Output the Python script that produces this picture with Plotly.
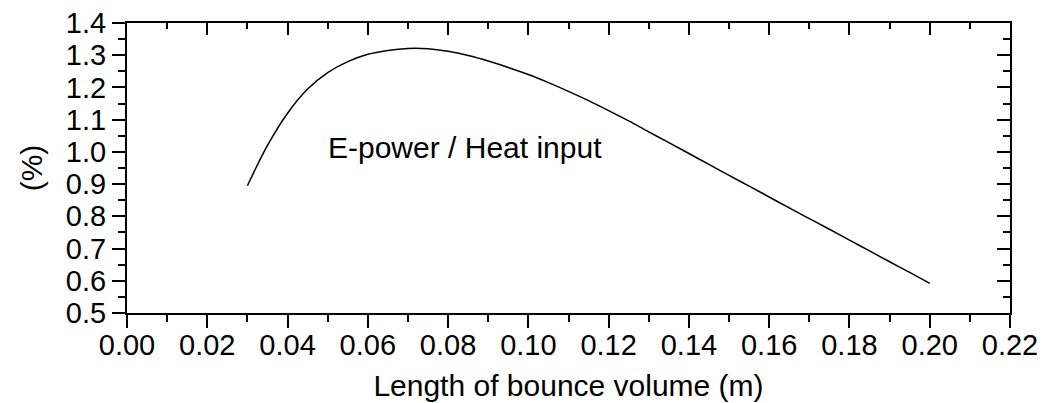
import plotly.graph_objects as go

# Data
length_m = [0.030, 0.035, 0.040, 0.045, 0.050, 0.055, 0.060, 0.065, 0.070, 0.075,
            0.080, 0.085, 0.090, 0.095, 0.100, 0.105, 0.110, 0.115, 0.120, 0.125,
            0.130, 0.135, 0.140, 0.145, 0.150, 0.155, 0.160, 0.165, 0.170, 0.175,
            0.180, 0.185, 0.190, 0.195, 0.200]
efficiency_pct = [0.895, 1.020, 1.120, 1.195, 1.246, 1.280, 1.303, 1.315, 1.321, 1.320,
                  1.312, 1.299, 1.282, 1.262, 1.240, 1.215, 1.188, 1.159, 1.128, 1.096,
                  1.062, 1.029, 0.995, 0.961, 0.927, 0.894, 0.860, 0.826, 0.793, 0.760,
                  0.726, 0.693, 0.659, 0.626, 0.592]

x_title = "Length of bounce volume (m)"
y_title = "(%)"
label_text = "E-power / Heat input"

FONT = "Liberation Sans, Arial, sans-serif"

fig = go.Figure()
fig.add_trace(go.Scatter(x=length_m, y=efficiency_pct, mode="lines",
                         line=dict(color="black", width=1.5, shape="spline"),
                         showlegend=False, hoverinfo="skip"))
# helper (invisible) trace to activate the top/right mirror axes
fig.add_trace(go.Scatter(x=length_m, y=efficiency_pct, mode="lines", xaxis="x2", yaxis="y2",
                         line=dict(color="rgba(0,0,0,0)", width=0),
                         showlegend=False, hoverinfo="skip"))

axis_common = dict(showgrid=False, zeroline=False, showline=True, linecolor="black",
                   linewidth=2, tickcolor="black", tickwidth=2, automargin=False)

fig.update_layout(
    width=1048, height=403,
    margin=dict(l=127, r=38, t=23, b=90),
    paper_bgcolor="white", plot_bgcolor="white",
    font=dict(family=FONT, color="black", size=29),
    xaxis=dict(range=[0, 0.22], dtick=0.02, tick0=0, tickformat=".2f",
               ticks="outside", ticklen=13, ticklabelstandoff=-8,
               minor=dict(ticks="outside", ticklen=7, tickwidth=2, tickcolor="black", dtick=0.01),
               tickfont=dict(size=29),
               title=dict(text=x_title, font=dict(size=30), standoff=15),
               **axis_common),
    yaxis=dict(range=[0.5, 1.4], dtick=0.1, tick0=0.5, tickformat=".1f",
               ticks="outside", ticklen=13,
               minor=dict(ticks="outside", ticklen=7, tickwidth=2, tickcolor="black", dtick=0.05),
               tickfont=dict(size=29),
               title=dict(text=y_title, font=dict(size=30), standoff=14),
               **axis_common),
    xaxis2=dict(range=[0, 0.22], dtick=0.02, tick0=0, overlaying="x", side="top",
                ticks="inside", ticklen=12, showticklabels=False,
                minor=dict(ticks="inside", ticklen=6, tickwidth=2, tickcolor="black", dtick=0.01),
                **axis_common),
    yaxis2=dict(range=[0.5, 1.4], dtick=0.1, tick0=0.5, overlaying="y", side="right",
                ticks="inside", ticklen=13, showticklabels=False,
                minor=dict(ticks="inside", ticklen=7, tickwidth=2, tickcolor="black", dtick=0.05),
                **axis_common),
    annotations=[dict(x=0.0842, y=1.015, xref="x", yref="y", text=label_text,
                      showarrow=False, xanchor="center", yanchor="middle",
                      font=dict(size=30, family=FONT, color="black"))],
)

fig.write_html("out.html")
